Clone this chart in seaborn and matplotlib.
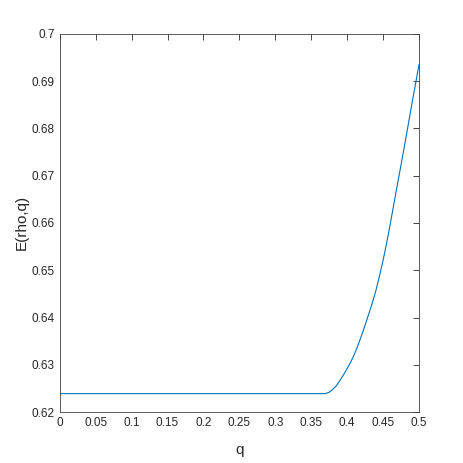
import pandas as pd
import seaborn as sns
import matplotlib.pyplot as plt

# values
q = [0.0, 0.37, 0.375, 0.38, 0.385, 0.39, 0.395, 0.40, 0.405, 0.41, 0.415,
     0.42, 0.425, 0.43, 0.435, 0.44, 0.445, 0.45, 0.455, 0.46, 0.465,
     0.47, 0.475, 0.48, 0.485, 0.49, 0.495, 0.50]
E = [0.6239, 0.6239, 0.6242, 0.6248, 0.6256, 0.6267, 0.6279, 0.6292, 0.6306,
     0.6322, 0.6341, 0.6362, 0.6384, 0.6407, 0.6431, 0.6457, 0.6488, 0.6521,
     0.6558, 0.6598, 0.6640, 0.6682, 0.6723, 0.6765, 0.6808, 0.6851, 0.6893,
     0.6935]

xticks = [0, 0.05, 0.1, 0.15, 0.2, 0.25, 0.3, 0.35, 0.4, 0.45, 0.5]
xtick_labels = ['0', '0.05', '0.1', '0.15', '0.2', '0.25', '0.3', '0.35', '0.4', '0.45', '0.5']
yticks = [0.62, 0.63, 0.64, 0.65, 0.66, 0.67, 0.68, 0.69, 0.7]
ytick_labels = ['0.62', '0.63', '0.64', '0.65', '0.66', '0.67', '0.68', '0.69', '0.7']

df = pd.DataFrame({'q': q, 'E': E})

sns.set_style('white')
plt.rcParams['font.family'] = ['Liberation Sans', 'DejaVu Sans']

fig = plt.figure(figsize=(4.63, 4.63), dpi=100)
ax = fig.add_axes([0.129, 0.110, 0.776, 0.817])

sns.lineplot(x='q', y='E', data=df, ax=ax, color='#0072BD', linewidth=0.8, sort=False)

ax.set_xlim(0, 0.5)
ax.set_ylim(0.62, 0.70)
ax.set_xticks(xticks)
ax.set_xticklabels(xtick_labels)
ax.set_yticks(yticks)
ax.set_yticklabels(ytick_labels)

ax.tick_params(direction='in', length=4, width=0.6, colors='#262626',
               labelsize=8.5, top=True, right=True, labeltop=False, labelright=False)
for s in ax.spines.values():
    s.set_visible(True)
    s.set_color('#404040')
    s.set_linewidth(0.6)

ax.set_xlabel('q', fontsize=11, color='#262626', labelpad=10)
ax.set_ylabel('E(rho,q)', fontsize=11, color='#262626', labelpad=2)

fig.savefig('out.png', dpi=100)
